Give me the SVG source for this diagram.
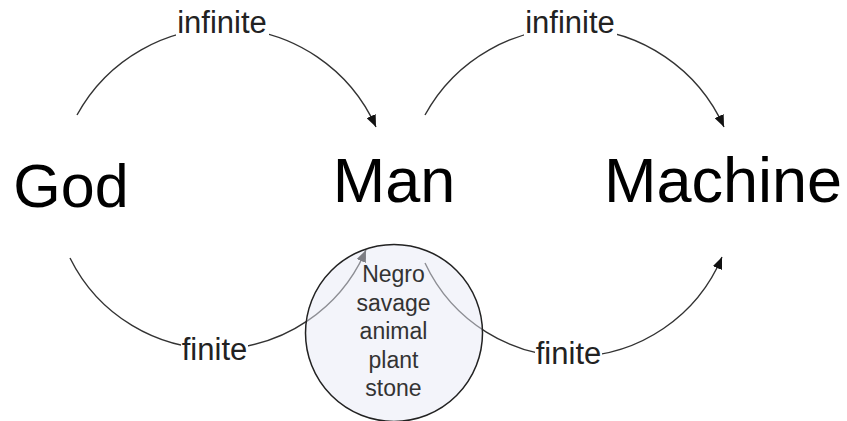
<svg xmlns="http://www.w3.org/2000/svg" width="847" height="421" viewBox="0 0 847 421">
<style>
.big{font-family:"Liberation Sans",Arial,sans-serif;fill:#000;text-anchor:middle}
.lbl{font-family:"Liberation Sans",Arial,sans-serif;font-size:31px;fill:#222;text-anchor:middle}
.in{font-family:"Liberation Sans",Arial,sans-serif;font-size:23px;fill:#333;text-anchor:middle}
.arc{fill:none;stroke:#333;stroke-width:1.4}
.bg{fill:#fff}
</style>
<defs>
<marker id="ah" viewBox="0 0 12 10" refX="12" refY="5" markerWidth="12" markerHeight="10" markerUnits="userSpaceOnUse" orient="auto">
<path d="M0,0 L12,5 L0,10 z" fill="#111"/>
</marker>
</defs>
<g id="connectors">
<path class="arc" d="M77,115 A167,167 0 0 1 376,127" marker-end="url(#ah)"/>
<path class="arc" d="M425,115 A167,167 0 0 1 724,127" marker-end="url(#ah)"/>
<path class="arc" d="M70,258 A163,163 0 0 0 366,250" marker-end="url(#ah)"/>
<path class="arc" d="M425,263 A162.5,162.5 0 0 0 722,257" marker-end="url(#ah)"/>
<rect class="bg" x="176" y="8" width="93" height="30"/>
<text class="lbl" x="222" y="33">infinite</text>
<rect class="bg" x="524" y="8" width="93" height="30"/>
<text class="lbl" x="570" y="33">infinite</text>
<rect class="bg" x="181" y="334" width="67" height="32"/>
<text class="lbl" x="214.5" y="360">finite</text>
<rect class="bg" x="535" y="338" width="67" height="32"/>
<text class="lbl" x="568.5" y="364">finite</text>
</g>
<g id="god"><text class="big" x="71" y="207" font-size="61">God</text></g>
<g id="man"><text class="big" x="394" y="202" font-size="63">Man</text></g>
<g id="machine"><text class="big" x="723" y="202" font-size="63">Machine</text></g>
<g id="circle">
<circle cx="394" cy="333" r="88.5" fill="#e8eaf6" fill-opacity="0.5" stroke="#222" stroke-width="1.5"/>
<text class="in" x="393.5" y="282">Negro</text>
<text class="in" x="393.5" y="310.5">savage</text>
<text class="in" x="393.5" y="339">animal</text>
<text class="in" x="393.5" y="367.5">plant</text>
<text class="in" x="393.5" y="396">stone</text>
</g>
</svg>
